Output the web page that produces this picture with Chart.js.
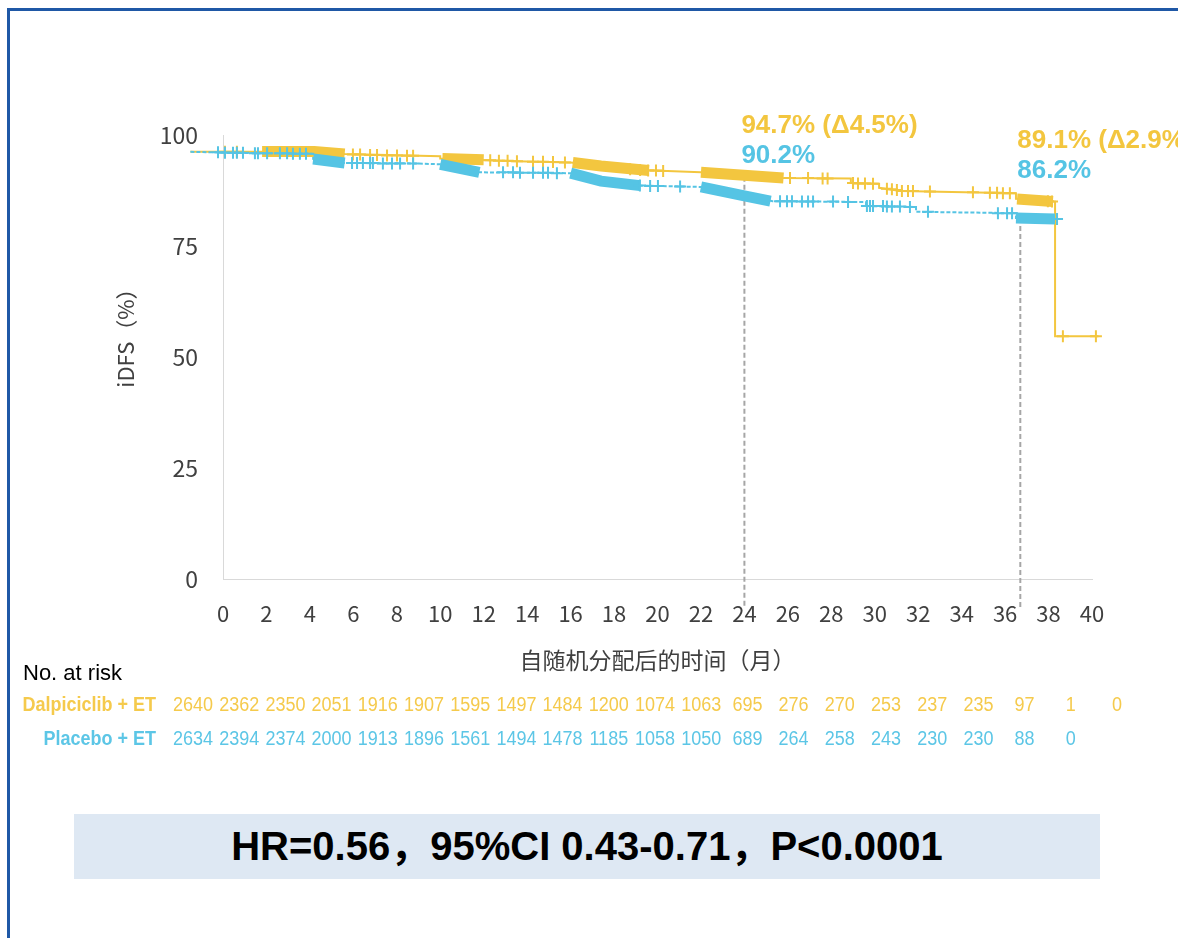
<!DOCTYPE html>
<html lang="zh-CN">
<head>
<meta charset="UTF-8">
<title>iDFS</title>
<script src="https://cdn.jsdelivr.net/npm/chart.js@4.4.1/dist/chart.umd.min.js"></script>
<style>
    html, body { margin: 0; padding: 0; background: #fff; overflow: hidden; }
    #frame {
        position: absolute; left: 7px; top: 8px; width: 1200px; height: 960px;
        border-top: 3px solid #1f58a6; border-left: 3px solid #1f58a6;
    }
    #km-chart { position: absolute; left: 0; top: 0; }
    #hr-box {
        position: absolute; left: 74px; top: 814px; width: 1026px; height: 65px;
        background: #dee8f3; color: #000; text-align: center; line-height: 66px;
        font: bold 40px "Liberation Sans", "Noto Sans CJK SC", sans-serif;
    }
</style>
</head>
<body>
<div id="frame"></div>
<canvas id="km-chart" width="1178" height="938"></canvas>
<div id="hr-box">HR=0.56，95%CI 0.43-0.71，P&lt;0.0001</div>
<script>
// KM curves (months, iDFS %)
const yellowTimes = [-1.5, 4.2, 5.6, 10.0, 10.0, 13.5, 16.0, 17.4, 19.2, 22.0, 25.8, 28.9, 28.9, 30.2, 30.2, 31.2, 36.5, 36.5, 38.3, 38.3, 40.3];
const yellowSurv  = [96.2, 96.2, 95.7, 95.2, 94.7, 94.1, 93.8, 93.0, 92.1, 91.6, 90.3, 90.2, 89.2, 89.0, 88.1, 87.4, 86.9, 85.6, 85.0, 54.7, 54.7];

const blueTimes = [-1.5, 1.6, 4.15, 4.15, 5.6, 8.8, 10.0, 11.8, 16.0, 17.4, 18.3, 19.2, 22.0, 24.0, 25.3, 29.6, 29.6, 31.9, 31.9, 36.5, 36.5, 38.4];
const blueSurv  = [96.2, 95.9, 95.8, 94.6, 93.7, 93.6, 93.4, 91.6, 91.4, 89.6, 89.0, 88.6, 88.3, 86.3, 85.1, 84.9, 84.0, 83.8, 82.7, 82.4, 81.3, 81.1];

// stretches of dense censoring (null = break)
const yellowBandTimes = [1.8, 4.2, 5.6, 5.6, 10.1, 12.0, 12.0, 16.1, 17.4, 19.6, 19.6, 22.0, 25.8, 25.8, 36.55, 38.2];
const yellowBandSurv  = [96.3, 96.3, 95.7, null, 94.7, 94.4, null, 93.8, 93.0, 92.0, null, 91.6, 90.3, null, 85.6, 85.0];
const blueBandTimes = [4.15, 5.6, 5.6, 10.0, 11.8, 11.8, 16.0, 17.4, 19.2, 19.2, 22.0, 24.0, 25.2, 25.2, 36.5, 38.3];
const blueBandSurv  = [94.6, 93.7, null, 93.4, 91.6, null, 91.4, 89.6, 88.6, null, 88.3, 86.3, 85.1, null, 81.3, 81.1];

// single censor marks
const yellowCensorTimes = [-0.46, 0.09, 0.64, 5.98, 6.31, 6.77, 7.09, 7.55, 8.01, 8.47, 8.75, 12.3, 12.7, 13.1, 13.53, 14.27, 14.73, 15.19, 15.74,
    18.74, 19.2, 19.57, 19.93, 20.26, 26.1, 26.93, 27.6, 27.83, 29.0, 29.23, 29.55, 29.92, 30.56, 30.79, 31.02, 31.25,
    31.53, 31.76, 32.54, 34.52, 35.3, 35.63, 35.9, 36.22, 37.97, 38.16, 38.66, 40.18];
const yellowCensorSurv = [96.2, 96.2, 96.2, 95.6, 95.6, 95.5, 95.5, 95.4, 95.4, 95.3, 95.3, 94.3, 94.2, 94.2, 94.1, 94.0, 94.0, 93.9, 93.8,
    92.3, 92.1, 92.0, 92.0, 91.9, 90.3, 90.3, 90.2, 90.2, 89.2, 89.1, 89.1, 89.0, 87.9, 87.8, 87.6, 87.4,
    87.4, 87.4, 87.3, 87.1, 87.0, 87.0, 86.9, 86.9, 85.1, 85.0, 54.7, 54.7];
const blueCensorTimes = [-0.46, -0.23, 0.09, 0.46, 0.64, 0.92, 1.47, 1.61, 2.03, 2.62, 2.95, 3.22, 3.54, 3.82,
    5.94, 6.17, 6.44, 6.77, 6.9, 7.36, 7.78, 8.15, 8.75, 12.89, 13.35, 13.67, 14.27, 14.73, 14.96, 15.37,
    19.19, 19.66, 20.02, 21.04, 25.64, 25.96, 26.19, 26.65, 26.93, 27.16, 28.08, 28.77, 29.64, 29.78, 29.92,
    30.38, 30.56, 30.79, 31.16, 31.62, 32.45, 35.67, 36.09, 36.32, 38.39];
const blueCensorSurv = [96.1, 96.1, 96.0, 96.0, 96.0, 96.0, 95.9, 95.9, 95.9, 95.9, 95.9, 95.8, 95.8, 95.8,
    93.7, 93.7, 93.7, 93.7, 93.7, 93.6, 93.6, 93.6, 93.6, 91.6, 91.6, 91.5, 91.5, 91.5, 91.5, 91.4,
    88.6, 88.5, 88.5, 88.4, 85.1, 85.1, 85.1, 85.0, 85.0, 85.0, 85.0, 84.9, 84.0, 84.0, 84.0,
    84.0, 83.9, 83.9, 83.9, 83.8, 82.7, 82.4, 82.4, 82.4, 81.1];

// landmark annotations
const landmarkMonths = [24, 36.7];
const landmarkTops = [90.6, 81.3];
const landmarkYellow = ['94.7%', '89.1%'];
const landmarkDelta = ['4.5%', '2.9%'];
const landmarkBlue = ['90.2%', '86.2%'];

// number at risk
const riskMonths = [0, 2, 4, 6, 8, 10, 12, 14, 16, 18, 20, 22, 24, 26, 28, 30, 32, 34, 36, 38, 40];
const yellowRisk = [2640, 2362, 2350, 2051, 1916, 1907, 1595, 1497, 1484, 1200, 1074, 1063, 695, 276, 270, 253, 237, 235, 97, 1, 0];
const blueRisk = [2634, 2394, 2374, 2000, 1913, 1896, 1561, 1494, 1478, 1185, 1058, 1050, 689, 264, 258, 243, 230, 230, 88, 0];
const armNames = ['Dalpiciclib + ET', 'Placebo + ET'];

const YELLOW = '#f3c63f';
const BLUE = '#55c4e4';
const AXIS_FONT = '"Noto Sans CJK SC", "Noto Sans", sans-serif';
const LATIN_FONT = '"Liberation Sans", Arial, sans-serif';

document.addEventListener('DOMContentLoaded', function() {
    const ctx = document.getElementById('km-chart').getContext('2d');

    const toPoints = (xs, ys) => xs.map((t, i) => ({x: t, y: ys[i]}));

    const refLines = landmarkMonths.map((m, i) => ({
        data: [{x: m, y: landmarkTops[i]}, {x: m, y: -6.5}],
        borderColor: '#a6a6a6',
        borderWidth: 2,
        borderDash: [5, 3],
        pointRadius: 0,
        clip: false,
        order: 10
    }));

    const kmLabels = {
        id: 'kmLabels',
        afterDraw(chart) {
            const c = chart.ctx;
            const xs = chart.scales.x;
            const baselines = [133, 148];

            c.save();
            c.font = 'bold 26px ' + LATIN_FONT;
            c.textAlign = 'left';
            c.textBaseline = 'alphabetic';
            landmarkMonths.forEach((m, i) => {
                const px = xs.getPixelForValue(m) - 3;
                c.fillStyle = YELLOW;
                c.fillText(landmarkYellow[i] + ' (\u0394' + landmarkDelta[i] + ')', px, baselines[i]);
                c.fillStyle = BLUE;
                c.fillText(landmarkBlue[i], px, baselines[i] + 30);
            });

            // number at risk table
            c.fillStyle = '#000';
            c.font = '22px ' + LATIN_FONT;
            c.fillText('No. at risk', 23, 680);

            const rows = [
                {name: armNames[0], values: yellowRisk, color: '#f5ca4c', y: 711},
                {name: armNames[1], values: blueRisk, color: '#5cc6e6', y: 745}
            ];
            rows.forEach(row => {
                c.fillStyle = row.color;
                c.save();
                c.translate(156, row.y);
                c.scale(0.9, 1);
                c.font = 'bold 20px ' + LATIN_FONT;
                c.textAlign = 'right';
                c.fillText(row.name, 0, 0);
                c.restore();

                row.values.forEach((v, i) => {
                    c.save();
                    c.translate(193 + i * 46.2, row.y);
                    c.scale(0.9, 1);
                    c.font = '20px ' + LATIN_FONT;
                    c.textAlign = 'center';
                    c.fillText(String(v), 0, 0);
                    c.restore();
                });
            });
            c.restore();
        }
    };

    new Chart(ctx, {
        type: 'line',
        data: {
            datasets: [
                {
                    label: 'Placebo censored',
                    data: toPoints(blueCensorTimes, blueCensorSurv),
                    showLine: false,
                    pointStyle: 'cross',
                    pointRadius: 6,
                    pointBorderWidth: 2,
                    borderColor: BLUE,
                    clip: false,
                    order: 1
                },
                {
                    label: 'Placebo dense',
                    data: toPoints(blueBandTimes, blueBandSurv),
                    borderColor: BLUE,
                    borderWidth: 11,
                    borderCapStyle: 'butt',
                    pointRadius: 0,
                    spanGaps: false,
                    clip: false,
                    order: 2
                },
                {
                    label: 'Placebo + ET',
                    data: toPoints(blueTimes, blueSurv),
                    borderColor: BLUE,
                    borderWidth: 2,
                    borderDash: [4, 2],
                    pointRadius: 0,
                    clip: false,
                    order: 3
                },
                {
                    label: 'Dalpiciclib censored',
                    data: toPoints(yellowCensorTimes, yellowCensorSurv),
                    showLine: false,
                    pointStyle: 'cross',
                    pointRadius: 6,
                    pointBorderWidth: 2,
                    borderColor: YELLOW,
                    clip: false,
                    order: 4
                },
                {
                    label: 'Dalpiciclib dense',
                    data: toPoints(yellowBandTimes, yellowBandSurv),
                    borderColor: YELLOW,
                    borderWidth: 11,
                    borderCapStyle: 'butt',
                    pointRadius: 0,
                    spanGaps: false,
                    clip: false,
                    order: 5
                },
                {
                    label: 'Dalpiciclib + ET',
                    data: toPoints(yellowTimes, yellowSurv),
                    borderColor: YELLOW,
                    borderWidth: 2,
                    pointRadius: 0,
                    clip: false,
                    order: 6
                },
                ...refLines
            ]
        },
        options: {
            responsive: false,
            animation: false,
            layout: {
                padding: {left: 0, top: 135, right: 86, bottom: 0}
            },
            plugins: {
                legend: {display: false},
                tooltip: {enabled: false}
            },
            scales: {
                x: {
                    type: 'linear',
                    min: 0,
                    max: 40,
                    afterFit: function(scale) { scale.height = 359; },
                    grid: {display: false, drawTicks: false},
                    border: {display: true, color: '#d9d9d9', width: 1},
                    ticks: {
                        stepSize: 2,
                        autoSkip: false,
                        maxRotation: 0,
                        padding: 21,
                        color: '#404040',
                        font: {family: AXIS_FONT, size: 22}
                    },
                    title: {
                        display: true,
                        text: '自随机分配后的时间（月）',
                        color: '#404040',
                        font: {family: AXIS_FONT, size: 23},
                        padding: {top: 0, bottom: 264}
                    }
                },
                y: {
                    type: 'linear',
                    min: 0,
                    max: 100,
                    afterFit: function(scale) { scale.width = 223; },
                    grid: {display: false, drawTicks: false},
                    border: {display: true, color: '#d9d9d9', width: 1},
                    ticks: {
                        stepSize: 25,
                        padding: 25,
                        color: '#404040',
                        font: {family: AXIS_FONT, size: 23}
                    },
                    title: {
                        display: true,
                        text: '　　 iDFS（%）',
                        color: '#404040',
                        font: {family: AXIS_FONT, size: 22},
                        padding: {top: 112, bottom: 0}
                    }
                }
            }
        },
        plugins: [kmLabels]
    });
});
</script>
</body>
</html>
